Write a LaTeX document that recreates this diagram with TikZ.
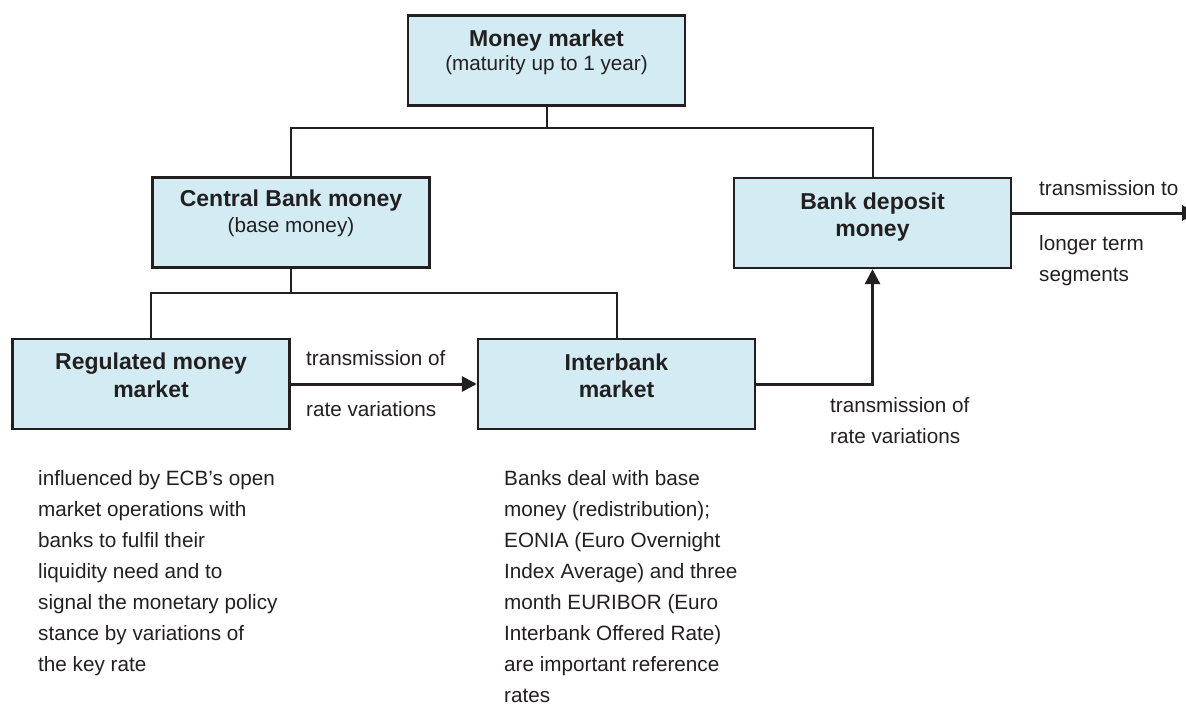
\documentclass[tikz,border=0pt]{standalone}
\usepackage{fontspec}
\setmainfont{Liberation Sans}
\usetikzlibrary{arrows.meta}
\definecolor{ink}{HTML}{231F20}
\definecolor{boxfill}{HTML}{D3ECF3}
\begin{document}
\begin{tikzpicture}[x=1pt,y=-1pt,
  box/.style={draw=ink, line width=2.4pt, fill=boxfill, minimum width=277pt, minimum height=90pt, inner sep=0pt},
  bt/.style={anchor=base, text=ink, font=\fontsize{23}{27}\selectfont\bfseries, inner sep=0pt},
  rt/.style={anchor=base, text=ink, font=\fontsize{20.7}{25}\selectfont, inner sep=0pt},
  lt/.style={anchor=base west, text=ink, font=\fontsize{20.7}{25}\selectfont, inner sep=0pt},
  tree/.style={draw=ink, line width=2pt},
  arr/.style={draw=ink, line width=3pt, -{Triangle[length=15pt,width=15pt]}}]
\useasboundingbox (0,0) rectangle (1186,704);

% boxes
\node[box] (mm) at (546.5,60.5) {};
\node[box] (cb) at (291,222.5) {};
\node[box] (bd) at (872.5,223) {};
\node[box] (rm) at (151,384) {};
\node[box] (ib) at (616.5,384) {};

% box texts
\node[bt] (mm1) at (546.5,46) {Money market};
\node[rt] (mm2) at (546.5,70) {(maturity up to 1 year)};
\node[bt] (cb1) at (291,206) {Central Bank money};
\node[rt] (cb2) at (291,232) {(base money)};
\node[bt] (bd1) at (872.5,209) {Bank deposit};
\node[bt] (bd2) at (872.5,236) {money};
\node[bt] (rm1) at (151,369) {Regulated money};
\node[bt] (rm2) at (151,397) {market};
\node[bt] (ib1) at (616.5,370) {Interbank};
\node[bt] (ib2) at (616.5,397) {market};

% tree connectors
\coordinate (j1) at (0,128);
\coordinate (j2) at (0,293);
\draw[tree] (mm.south) -- (mm.south |- j1);
\draw[tree] (cb.north) |- (bd.north |- j1) -- (bd.north);
\draw[tree] (cb.south) -- (cb.south |- j2);
\draw[tree] (rm.north) |- (ib.north |- j2) -- (ib.north);

% arrows
\coordinate (out) at (1197,213);
\draw[arr] (rm.east) -- (ib.west);
\draw[arr] (ib.east) -| (bd.south);
\draw[arr] (bd.east |- out) -- (out);

% arrow labels
\node[lt] (a1) at (306,365) {transmission of};
\node[lt] (a2) at (306,416) {rate variations};
\node[lt] (b1) at (830,412) {transmission of};
\node[lt] (b2) at (830,443) {rate variations};
\node[lt] (c1) at (1039,195) {transmission to};
\node[lt] (c2) at (1039,250) {longer term};
\node[lt] (c3) at (1039,281) {segments};

% paragraphs
\foreach \t [count=\i] in {{influenced by ECB’s open},{market operations with},{banks to fulfil their},{liquidity need and to},{signal the monetary policy},{stance by variations of},{the key rate}}
  \node[lt] (l\i) at (38,{485+31*(\i-1)}) {\t};
\foreach \t [count=\i] in {{Banks deal with base},{money (redistribution);},{EONIA (Euro Overnight},{Index Average) and three},{month EURIBOR (Euro},{Interbank Offered Rate)},{are important reference},{rates}}
  \node[lt] (r\i) at (504,{485+31*(\i-1)}) {\t};
\end{tikzpicture}
\end{document}
